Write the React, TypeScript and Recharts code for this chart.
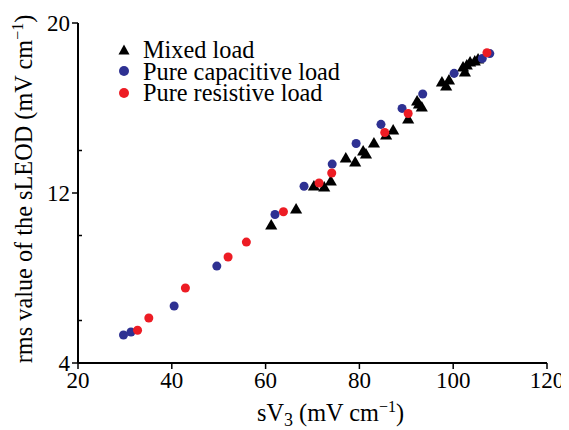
import React from 'react';
import { ScatterChart, Scatter, XAxis, YAxis, ZAxis, Legend } from 'recharts';

const FONT = '"Liberation Serif", "Times New Roman", serif';

const xTicks = [20, 40, 60, 80, 100, 120];
const yMajorTicks = [4, 12, 20];
const yMinorTicks = [6, 10, 14];

const mixedX = [61.2, 66.5, 70.3, 72.5, 73.9, 77.1, 79.1, 80.8, 81.4, 83.1, 85.7, 87.2, 90.4, 92.3, 92.7, 93.3, 97.6, 98.5, 99.1, 102.1, 102.5, 102.9, 103.6, 104.6, 105.3];
const mixedY = [10.45, 11.2, 12.28, 12.24, 12.52, 13.6, 13.41, 13.93, 13.79, 14.31, 14.68, 14.92, 15.44, 16.28, 16.14, 16.0, 17.18, 16.99, 17.27, 17.88, 17.65, 17.98, 18.12, 18.16, 18.26];

const capX = [29.7, 31.3, 40.5, 49.6, 62.0, 68.2, 74.2, 79.3, 84.6, 89.1, 93.5, 100.2, 106.2, 107.8];
const capY = [5.32, 5.46, 6.68, 8.56, 10.99, 12.32, 13.36, 14.33, 15.23, 15.98, 16.66, 17.63, 18.33, 18.56];

const resX = [32.7, 35.1, 42.9, 52.0, 55.9, 63.8, 71.4, 74.1, 85.4, 90.4, 107.2];
const resY = [5.54, 6.12, 7.53, 8.99, 9.69, 11.12, 12.47, 12.94, 14.85, 15.74, 18.6];

const BLUE = '#2e3192';
const RED = '#ed1c24';

const zip = (xs: number[], ys: number[]) => xs.map((x, i) => ({ x, y: ys[i] }));
const mixedData = zip(mixedX, mixedY);
const capData = zip(capX, capY);
const resData = zip(resX, resY);

const TICK_SIZE = 6;
const TICK_MARGIN = 2;

const YTick = (props: any) => {
  const { x, y, payload } = props;
  const axisX = x + TICK_SIZE + TICK_MARGIN;
  const v = payload.value;
  if (yMajorTicks.includes(v)) {
    return (
      <g>
        <line x1={axisX - TICK_SIZE} x2={axisX} y1={y} y2={y} stroke="#000" strokeWidth={1.5} />
        <text x={x} y={y} dy={8} textAnchor="end" fontSize={23} fontFamily={FONT} fill="#000">{v}</text>
      </g>
    );
  }
  return <line x1={axisX} x2={axisX + 4} y1={y} y2={y} stroke="#000" strokeWidth={1.5} />;
};

const LegendContent = (props: any) => {
  const { payload } = props;
  return (
    <div style={{ fontFamily: FONT, fontSize: 24.3, color: '#000' }}>
      {(payload || []).map((p: any, i: number) => (
        <div key={i} style={{ display: 'flex', alignItems: 'center', height: 21.5 }}>
          <svg width={22} height={22} style={{ display: 'block' }}>
            {p.type === 'triangle' ? (
              <polygon points="11,5.5 16.5,15.5 5.5,15.5" fill="#000" />
            ) : (
              <circle cx={11} cy={11} r={5} fill={p.color} />
            )}
          </svg>
          <span style={{ marginLeft: 8, lineHeight: '21.5px', whiteSpace: 'nowrap' }}>{p.value}</span>
        </div>
      ))}
    </div>
  );
};

const XLabel = (props: any) => {
  const { viewBox } = props;
  const cx = viewBox.x + viewBox.width / 2 + 18;
  const y = viewBox.y + 58;
  return (
    <text x={cx} y={y} textAnchor="middle" fontSize={24.3} fontFamily={FONT} fill="#000">
      sV<tspan fontSize={18} dy={5}>3</tspan>
      <tspan dy={-5}> (mV cm</tspan>
      <tspan fontSize={16} dy={-9}>−1</tspan>
      <tspan dy={9}>)</tspan>
    </text>
  );
};

const YLabel = (props: any) => {
  const { viewBox } = props;
  const x = 24;
  const cy = viewBox.y + viewBox.height / 2 - 4;
  return (
    <text x={x} y={cy} textAnchor="middle" fontSize={24.3} fontFamily={FONT} fill="#000" transform={`rotate(-90, ${x}, ${cy})`}>
      rms value of the sLEOD (mV cm
      <tspan fontSize={16} dy={-9}>−1</tspan>
      <tspan dy={9}>)</tspan>
    </text>
  );
};

export default function App() {
  return (
    <div style={{ width: 561, height: 422 }}>
      <ScatterChart width={561} height={422} margin={{ top: 15, right: 22, bottom: 27, left: 0 }}>
        <XAxis
          type="number"
          dataKey="x"
          domain={[20, 120]}
          ticks={xTicks}
          interval={0}
          height={40}
          axisLine={{ stroke: '#000', strokeWidth: 2 }}
          tickLine={{ stroke: '#000', strokeWidth: 1.5 }}
          tickSize={TICK_SIZE}
          tickMargin={3}
          tick={{ fill: '#000', fontSize: 23, fontFamily: FONT }}
          label={<XLabel />}
        />
        <YAxis
          type="number"
          dataKey="y"
          domain={[4, 20]}
          ticks={[...yMajorTicks, ...yMinorTicks].sort((a, b) => a - b)}
          interval={0}
          width={70}
          axisLine={{ stroke: '#000', strokeWidth: 2 }}
          tickLine={false}
          tickSize={TICK_SIZE}
          tickMargin={TICK_MARGIN}
          tick={<YTick />}
          label={<YLabel />}
        />
        <ZAxis zAxisId="t" range={[58, 58]} />
        <ZAxis zAxisId="c" range={[66, 66]} />
        <Legend
          layout="vertical"
          verticalAlign="middle"
          align="center"
          content={<LegendContent />}
          wrapperStyle={{ position: 'absolute', left: 105, top: 31, width: 300 }}
        />
        <Scatter name="Mixed load" data={mixedData} fill="#000" shape="triangle" legendType="triangle" zAxisId="t" isAnimationActive={false} />
        <Scatter name="Pure capacitive load" data={capData} fill={BLUE} shape="circle" legendType="circle" zAxisId="c" isAnimationActive={false} />
        <Scatter name="Pure resistive load" data={resData} fill={RED} shape="circle" legendType="circle" zAxisId="c" isAnimationActive={false} />
      </ScatterChart>
    </div>
  );
}
